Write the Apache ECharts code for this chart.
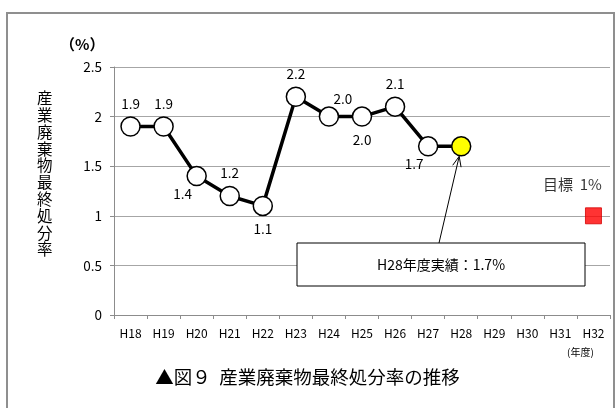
<!DOCTYPE html>
<html>
<head>
<meta charset="utf-8">
<script src="https://cdn.jsdelivr.net/npm/echarts@6/dist/echarts.min.js"></script>
<style>
  html, body { margin: 0; padding: 0; background: #fff; }
  #main { width: 615px; height: 408px; }
</style>
</head>
<body>
<div id="main"></div>
<script>
var categories = ["H18", "H19", "H20", "H21", "H22", "H23", "H24", "H25", "H26", "H27", "H28", "H29", "H30", "H31", "H32"];
var actual = [1.9, 1.9, 1.4, 1.2, 1.1, 2.2, 2.0, 2.0, 2.1, 1.7, 1.7, null, null, null, null];
var target = [null, null, null, null, null, null, null, null, null, null, null, null, null, null, 1.0];
var yTicks = [0, 0.5, 1, 1.5, 2, 2.5];
var latestIndex = 10;

var FONT = "Noto Sans CJK JP";
// where each value label sits relative to its point
var labelPos = ["top", "top", "bottomLeft", "top", "bottom", "top", "topRight", "bottom", "top", "bottomLeft", "none"];
var labelOffset = {
  top: [0, -1], bottom: [0, 1], bottomLeft: [-14, -4], topRight: [14, 4]
};

var chart = echarts.init(document.getElementById("main"));

var actualData = actual.map(function (v, i) {
  if (v === null) return v;
  var item = { value: v };
  var p = labelPos[i];
  if (i === latestIndex) {
    item.itemStyle = { color: "#ffff00" };
    item.label = { show: false };
  } else {
    item.label = {
      position: p === "bottomLeft" ? "bottom" : (p === "topRight" ? "top" : p),
      offset: labelOffset[p]
    };
  }
  return item;
});

chart.setOption({
  animation: false,
  textStyle: { fontFamily: FONT },
  grid: { left: 114, right: 5, top: 67, bottom: 93 },
  xAxis: {
    type: "category",
    data: categories,
    boundaryGap: true,
    axisLine: { lineStyle: { color: "#8c8c8c", width: 1 } },
    axisTick: { show: true, length: 4, lineStyle: { color: "#8c8c8c" } },
    axisLabel: { color: "#000", fontSize: 12, margin: 12, fontFamily: FONT }
  },
  yAxis: {
    type: "value",
    min: yTicks[0],
    max: yTicks[yTicks.length - 1],
    interval: 0.5,
    axisLine: { show: true, lineStyle: { color: "#8c8c8c" } },
    axisTick: { show: true, length: 4, lineStyle: { color: "#8c8c8c" } },
    splitLine: { lineStyle: { color: "#a6a6a6", width: 1 } },
    axisLabel: { color: "#000", fontSize: 13.5, margin: 12, fontFamily: FONT }
  },
  series: [
    {
      type: "line",
      data: actualData,
      symbol: "circle",
      symbolSize: 19,
      lineStyle: { color: "#000", width: 3.5 },
      itemStyle: { color: "#fff", borderColor: "#000", borderWidth: 1.5 },
      label: { show: true, color: "#000", fontSize: 13.5, fontFamily: FONT,
        formatter: function (p) { return p.value.toFixed(1); } },
      z: 3
    },
    {
      type: "scatter",
      data: target,
      symbol: "rect",
      symbolSize: 16,
      itemStyle: { color: "#ff0000", borderColor: "#d40000", borderWidth: 1 },
      label: { show: true, position: "top", distance: 16, offset: [-21, 0],
        formatter: "目標  1%", color: "#000", fontSize: 15, fontFamily: FONT },
      z: 4
    }
  ]
});

// arrow from the note box to the latest point
var tip = chart.convertToPixel({ seriesIndex: 0 }, [latestIndex, actual[latestIndex]]);
var sx = 439, sy = 243;
var ex = tip[0] - 2, ey = tip[1] + 10;
var ang = Math.atan2(ey - sy, ex - sx);
var ah = 11, aw = 0.4;

chart.setOption({
  graphic: [
    { id: "frame", type: "rect", shape: { x: 7, y: 13, width: 607, height: 400 },
      style: { fill: "none", stroke: "#8f8f8f", lineWidth: 2 }, silent: true },
    { id: "unit", type: "text", left: 60, top: 37,
      style: { text: "（%）", font: "bold 15px '" + FONT + "'", fill: "#000" } },
    { id: "yname", type: "text", left: 37, top: 90,
      style: { text: "産\n業\n廃\n棄\n物\n最\n終\n処\n分\n率", font: "15.5px '" + FONT + "'",
        lineHeight: 16.8, fill: "#000" } },
    { id: "xunit", type: "text", left: 567, top: 347,
      style: { text: "(年度)", font: "10px '" + FONT + "'", fill: "#000" } },
    { id: "title", type: "text", left: "center", top: 368,
      style: { text: "▲図９  産業廃棄物最終処分率の推移", font: "18.5px '" + FONT + "'", fill: "#000" } },
    { id: "note", type: "rect", shape: { x: 297, y: 243, width: 288, height: 43 },
      style: { fill: "#fff", stroke: "#000", lineWidth: 1 }, z: 10 },
    { id: "noteText", type: "text", x: 441, y: 265, z: 11,
      style: { text: "H28年度実績：1.7%", font: "14px '" + FONT + "'", fill: "#000",
        textAlign: "center", textVerticalAlign: "middle" } },
    { id: "arrow", type: "line", shape: { x1: sx, y1: sy, x2: ex, y2: ey },
      style: { stroke: "#000", lineWidth: 1 }, z: 12 },
    { id: "arrowHead", type: "polyline", shape: { points: [
        [ex - ah * Math.cos(ang - aw), ey - ah * Math.sin(ang - aw)],
        [ex, ey],
        [ex - ah * Math.cos(ang + aw), ey - ah * Math.sin(ang + aw)]
      ] },
      style: { stroke: "#000", lineWidth: 1, fill: "none" }, z: 12 }
  ]
});
</script>
</body>
</html>
